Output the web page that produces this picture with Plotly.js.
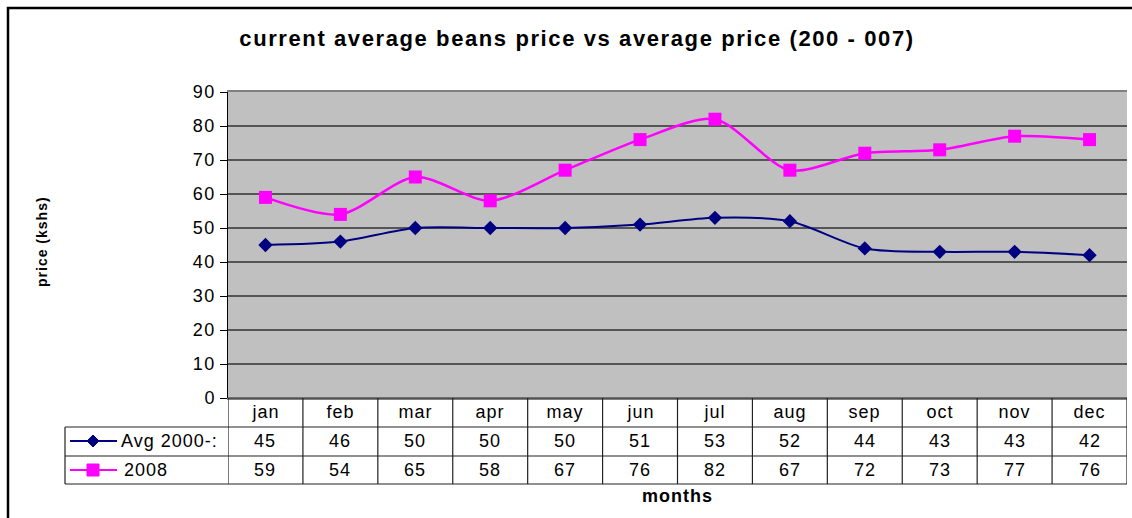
<!DOCTYPE html>
<html>
<head>
<meta charset="utf-8">
<script src="https://cdn.plot.ly/plotly-3.0.1.min.js"></script>
<style>
html,body{margin:0;padding:0;background:#fff;}
#chart{width:1132px;height:518px;}
#chart .annotation-text{letter-spacing:1px;}
#chart .ytick text{letter-spacing:1.5px;}
#chart .gtitle{letter-spacing:1.6px;}
</style>
</head>
<body>
<div id="chart"></div>
<script>
const months = ["jan","feb","mar","apr","may","jun","jul","aug","sep","oct","nov","dec"];
const avgName = "Avg 2000-:";
const avgValues = [45,46,50,50,50,51,53,52,44,43,43,42];
const curName = "2008";
const curValues = [59,54,65,58,67,76,82,67,72,73,77,76];
const yTicks = [0,10,20,30,40,50,60,70,80,90];

const W = 1132, H = 518;
const L = 228, R = 1127, T = 92, B = 398;
const pw = R - L, ph = B - T;
const px = x => (x - L) / pw;
const py = y => (B - y) / ph;

const xs = months.map((m, i) => i);
const navy = "#000080", mag = "#FF00FF";
const FONT = "Liberation Sans, Arial, sans-serif";

const traces = [
  {x: xs, y: avgValues, name: avgName, type: "scatter", mode: "lines+markers",
   line: {color: navy, width: 2, shape: "spline", smoothing: 0.8},
   marker: {symbol: "diamond", size: 11, color: navy}},
  {x: xs, y: curValues, name: curName, type: "scatter", mode: "lines+markers",
   line: {color: mag, width: 2.5, shape: "spline", smoothing: 0.8},
   marker: {symbol: "square", size: 13, color: mag}}
];

const rowTop = [398, 427, 456, 484];
const shapes = [];
const annotations = [];
const lineStyle = {color: "#222", width: 1.2};
shapes.push({type: "line", xref: "paper", yref: "paper", x0: 0, x1: 1, y0: py(rowTop[0]), y1: py(rowTop[0]), line: lineStyle});
for (let k = 1; k < 4; k++) {
  shapes.push({type: "line", xref: "paper", yref: "paper", x0: px(65), x1: 1, y0: py(rowTop[k]), y1: py(rowTop[k]), line: lineStyle});
}
shapes.push({type: "line", xref: "paper", yref: "paper", x0: px(65), x1: px(65), y0: py(427), y1: py(484), line: lineStyle});
for (let i = 0; i <= months.length; i++) {
  shapes.push({type: "line", xref: "x", yref: "paper", x0: i - 0.5, x1: i - 0.5, y0: py(398), y1: py(484), line: lineStyle});
}
// legend samples
const legendRows = [[avgName, navy, "diamond", 441], [curName, mag, "square", 470]];
legendRows.forEach(r => {
  const yc = r[3];
  shapes.push({type: "line", xref: "paper", yref: "paper", x0: px(70), x1: px(117), y0: py(yc), y1: py(yc), line: {color: r[1], width: 2}});
  const cx = 93, s = 6;
  if (r[2] === "diamond") {
    shapes.push({type: "path", xref: "paper", yref: "paper",
      path: `M ${px(cx)} ${py(yc - s)} L ${px(cx + s)} ${py(yc)} L ${px(cx)} ${py(yc + s)} L ${px(cx - s)} ${py(yc)} Z`,
      fillcolor: r[1], line: {color: r[1], width: 1}});
  } else {
    shapes.push({type: "rect", xref: "paper", yref: "paper", x0: px(cx - s), x1: px(cx + s), y0: py(yc + s), y1: py(yc - s),
      fillcolor: r[1], line: {color: r[1], width: 1}});
  }
  annotations.push({xref: "paper", yref: "paper", x: px(124), y: py(yc), text: r[0], showarrow: false,
    xanchor: "left", yanchor: "middle", font: {family: FONT, size: 18, color: "#000"}});
});
// outer frame
shapes.push({type: "rect", xref: "paper", yref: "paper", x0: px(8), x1: px(1145), y0: py(8), y1: py(530), line: {color: "#000", width: 2.5}, layer: "below"});
// table text
months.forEach((m, i) => {
  annotations.push({xref: "x", yref: "paper", x: i, y: py(412), text: m, showarrow: false, yanchor: "middle",
    font: {family: FONT, size: 18, color: "#000"}});
  annotations.push({xref: "x", yref: "paper", x: i, y: py(441), text: String(avgValues[i]), showarrow: false, yanchor: "middle",
    font: {family: FONT, size: 18, color: "#000"}});
  annotations.push({xref: "x", yref: "paper", x: i, y: py(470), text: String(curValues[i]), showarrow: false, yanchor: "middle",
    font: {family: FONT, size: 18, color: "#000"}});
});
// axis titles
annotations.push({xref: "paper", yref: "paper", x: px(42), y: py(242), text: "<b>price (kshs)</b>", textangle: -90, showarrow: false,
  xanchor: "center", yanchor: "middle", font: {family: FONT, size: 14, color: "#000"}});
annotations.push({xref: "paper", yref: "paper", x: 0.5, y: py(496), text: "<b>months</b>", showarrow: false,
  xanchor: "center", yanchor: "middle", font: {family: FONT, size: 18, color: "#000"}});

const layout = {
  width: W, height: H,
  margin: {l: L, r: W - R, t: T, b: H - B, pad: 0},
  paper_bgcolor: "#fff", plot_bgcolor: "#C0C0C0",
  showlegend: false,
  title: {text: "<b>current average beans price vs average price (200 - 007)</b>", xref: "container", x: 577 / W, xanchor: "center",
    yref: "container", y: 1 - 38 / H, yanchor: "middle", font: {family: FONT, size: 22, color: "#000"}},
  xaxis: {range: [-0.5, 11.5], showticklabels: false, showgrid: false, zeroline: false, ticks: "",
    showline: true, linecolor: "#808080", linewidth: 2, mirror: true, fixedrange: true},
  yaxis: {range: [0, 90], tickvals: yTicks, ticktext: yTicks.map(String), ticks: "outside", ticklen: 7, tickcolor: "#000",
    showgrid: true, gridcolor: "#555", gridwidth: 1.5, zeroline: false,
    showline: true, linecolor: "#000", linewidth: 1.5,
    tickfont: {family: FONT, size: 18, color: "#000"}, fixedrange: true},
  shapes: shapes, annotations: annotations
};

Plotly.newPlot("chart", traces, layout, {displayModeBar: false, staticPlot: true});
</script>
</body>
</html>
